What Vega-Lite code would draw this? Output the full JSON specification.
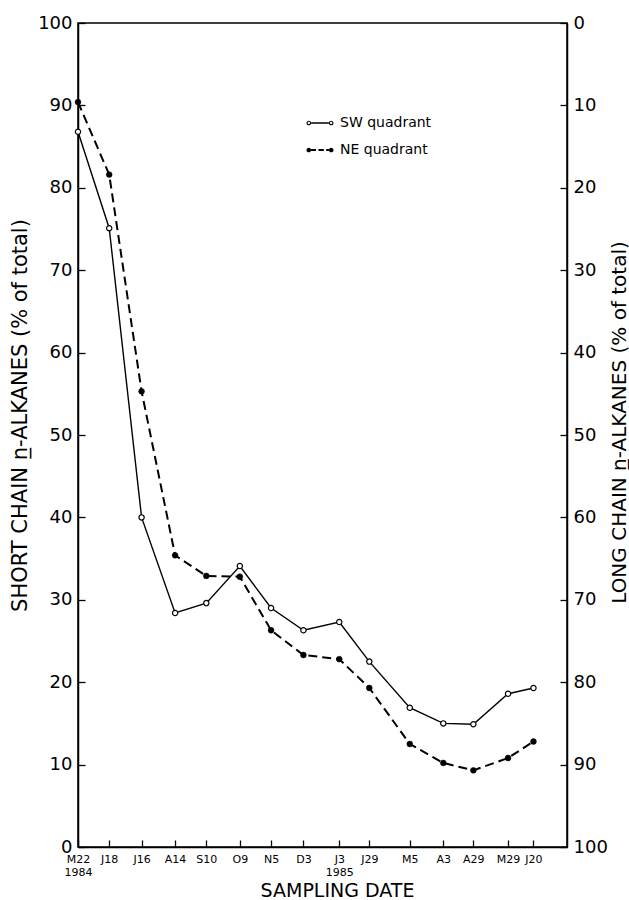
{
  "$schema": "https://vega.github.io/schema/vega-lite/v6.json",
  "width": 489,
  "height": 824,
  "autosize": "none",
  "padding": {"left": 78, "top": 23, "right": 62, "bottom": 53},
  "background": "white",
  "data": {
    "values": [
      {"date": "1984-05-22", "series": "SW quadrant", "value": 86.8},
      {"date": "1984-06-18", "series": "SW quadrant", "value": 75.1},
      {"date": "1984-07-16", "series": "SW quadrant", "value": 40.0},
      {"date": "1984-08-14", "series": "SW quadrant", "value": 28.4},
      {"date": "1984-09-10", "series": "SW quadrant", "value": 29.6},
      {"date": "1984-10-09", "series": "SW quadrant", "value": 34.1},
      {"date": "1984-11-05", "series": "SW quadrant", "value": 29.0},
      {"date": "1984-12-03", "series": "SW quadrant", "value": 26.3},
      {"date": "1985-01-03", "series": "SW quadrant", "value": 27.3},
      {"date": "1985-01-29", "series": "SW quadrant", "value": 22.5},
      {"date": "1985-03-05", "series": "SW quadrant", "value": 16.9},
      {"date": "1985-04-03", "series": "SW quadrant", "value": 15.0},
      {"date": "1985-04-29", "series": "SW quadrant", "value": 14.9},
      {"date": "1985-05-29", "series": "SW quadrant", "value": 18.6},
      {"date": "1985-06-20", "series": "SW quadrant", "value": 19.3},
      {"date": "1984-05-22", "series": "NE quadrant", "value": 90.4},
      {"date": "1984-06-18", "series": "NE quadrant", "value": 81.6},
      {"date": "1984-07-16", "series": "NE quadrant", "value": 55.3},
      {"date": "1984-08-14", "series": "NE quadrant", "value": 35.4},
      {"date": "1984-09-10", "series": "NE quadrant", "value": 32.9},
      {"date": "1984-10-09", "series": "NE quadrant", "value": 32.8},
      {"date": "1984-11-05", "series": "NE quadrant", "value": 26.3},
      {"date": "1984-12-03", "series": "NE quadrant", "value": 23.3},
      {"date": "1985-01-03", "series": "NE quadrant", "value": 22.8},
      {"date": "1985-01-29", "series": "NE quadrant", "value": 19.3},
      {"date": "1985-03-05", "series": "NE quadrant", "value": 12.5},
      {"date": "1985-04-03", "series": "NE quadrant", "value": 10.2},
      {"date": "1985-04-29", "series": "NE quadrant", "value": 9.3},
      {"date": "1985-05-29", "series": "NE quadrant", "value": 10.8},
      {"date": "1985-06-20", "series": "NE quadrant", "value": 12.8}
    ]
  },
  "encoding": {
    "x": {
      "field": "date",
      "type": "temporal",
      "scale": {
        "type": "utc",
        "domain": [
          {"year": 1984, "month": 5, "date": 22, "utc": true},
          {"year": 1985, "month": 7, "date": 19, "utc": true}
        ]
      },
      "axis": {
        "values": [
          {"year": 1984, "month": 5, "date": 22, "utc": true},
          {"year": 1984, "month": 6, "date": 18, "utc": true},
          {"year": 1984, "month": 7, "date": 16, "utc": true},
          {"year": 1984, "month": 8, "date": 14, "utc": true},
          {"year": 1984, "month": 9, "date": 10, "utc": true},
          {"year": 1984, "month": 10, "date": 9, "utc": true},
          {"year": 1984, "month": 11, "date": 5, "utc": true},
          {"year": 1984, "month": 12, "date": 3, "utc": true},
          {"year": 1985, "month": 1, "date": 3, "utc": true},
          {"year": 1985, "month": 1, "date": 29, "utc": true},
          {"year": 1985, "month": 3, "date": 5, "utc": true},
          {"year": 1985, "month": 4, "date": 3, "utc": true},
          {"year": 1985, "month": 4, "date": 29, "utc": true},
          {"year": 1985, "month": 5, "date": 29, "utc": true},
          {"year": 1985, "month": 6, "date": 20, "utc": true}
        ],
        "labelExpr": "(utcmonth(datum.value) == 4 && utcdate(datum.value) == 22) || (utcmonth(datum.value) == 0 && utcdate(datum.value) == 3) ? [substring(utcFormat(datum.value, '%b'), 0, 1) + utcFormat(datum.value, '%-d'), utcFormat(datum.value, '%Y')] : substring(utcFormat(datum.value, '%b'), 0, 1) + utcFormat(datum.value, '%-d')",
        "tickSize": -7,
        "labelPadding": 13,
        "labelFontSize": 11,
        "labelLineHeight": 13,
        "labelOverlap": false,
        "labelFlush": false,
        "grid": false,
        "title": "SAMPLING DATE",
        "titleFontSize": 19,
        "titleFontWeight": "normal",
        "titleX": 259,
        "titleY": 49.5,
        "titleAlign": "center",
        "titleBaseline": "alphabetic"
      }
    }
  },
  "layer": [
    {
      "encoding": {
        "y": {
          "field": "value",
          "type": "quantitative",
          "scale": {"domain": [0, 100]},
          "axis": {
            "orient": "left",
            "values": [0, 10, 20, 30, 40, 50, 60, 70, 80, 90, 100],
            "tickSize": -7,
            "labelPadding": 13,
            "labelFontSize": 18,
            "labelOverlap": false,
            "labelFlush": false,
            "grid": false,
            "title": "SHORT CHAIN n̲-ALKANES (% of total)",
            "titleFontSize": 21,
            "titleFontWeight": "normal",
            "titleAngle": 270,
            "titleX": -58,
            "titleY": 392,
            "titleAlign": "center",
            "titleBaseline": "middle"
          }
        }
      },
      "layer": [
        {
          "transform": [{"filter": "datum.series == 'SW quadrant'"}],
          "mark": {"type": "line", "color": "black", "strokeWidth": 1.4},
          "encoding": {}
        },
        {
          "transform": [{"filter": "datum.series == 'NE quadrant'"}],
          "mark": {"type": "line", "color": "black", "strokeWidth": 2, "strokeDash": [9, 5]},
          "encoding": {}
        },
        {
          "transform": [{"filter": "datum.series == 'SW quadrant'"}],
          "mark": {"type": "point", "shape": "circle", "size": 28, "fill": "white", "stroke": "black", "strokeWidth": 1.2, "opacity": 1, "filled": false},
          "encoding": {}
        },
        {
          "transform": [{"filter": "datum.series == 'NE quadrant'"}],
          "mark": {"type": "point", "shape": "circle", "size": 34, "fill": "black", "stroke": "black", "strokeWidth": 0.5, "opacity": 1, "filled": true},
          "encoding": {}
        },
        {
          "transform": [{"filter": "false"}],
          "mark": {"type": "point", "filled": true, "color": "black", "opacity": 1},
          "encoding": {
            "shape": {
              "field": "series",
              "type": "nominal",
              "scale": {
                "domain": ["SW quadrant", "NE quadrant"],
                "range": [
                  "M-0.68,0A0.18,0.18 0 1,0 -1.04,0A0.18,0.18 0 1,0 -0.68,0ZM-0.77,0A0.09,0.09 0 1,1 -0.95,0A0.09,0.09 0 1,1 -0.77,0ZM-0.68,-0.058H0.68V0.058H-0.68ZM1.04,0A0.18,0.18 0 1,0 0.68,0A0.18,0.18 0 1,0 1.04,0ZM0.95,0A0.09,0.09 0 1,1 0.77,0A0.09,0.09 0 1,1 0.95,0Z",
                  "M-0.68,0A0.18,0.18 0 1,0 -1.04,0A0.18,0.18 0 1,0 -0.68,0ZM-0.7,-0.075H-0.3V0.075H-0.7ZM-0.12,-0.075H0.3V0.075H-0.12ZM0.48,-0.075H0.7V0.075H0.48ZM1.04,0A0.18,0.18 0 1,0 0.68,0A0.18,0.18 0 1,0 1.04,0Z"
                ]
              },
              "legend": {
                "orient": "none",
                "legendX": 229,
                "legendY": 87,
                "title": null,
                "padding": 0,
                "symbolSize": 676,
                "symbolStrokeWidth": 0,
                "labelFontSize": 14,
                "labelOffset": 7,
                "rowPadding": 7,
                "labelColor": "black",
                "encode": {
                  "symbols": {
                    "fill": {"value": "black"},
                    "opacity": {"value": 1},
                    "fillOpacity": {"value": 1}
                  }
                }
              }
            }
          }
        }
      ]
    },
    {
      "mark": {"type": "point", "opacity": 0},
      "encoding": {
        "y": {
          "field": "value",
          "type": "quantitative",
          "scale": {"domain": [0, 100], "reverse": true},
          "axis": {
            "orient": "right",
            "values": [0, 10, 20, 30, 40, 50, 60, 70, 80, 90, 100],
            "tickSize": -7,
            "labelPadding": 13,
            "labelFontSize": 18,
            "labelOverlap": false,
            "labelFlush": false,
            "grid": false,
            "title": "LONG CHAIN n̲-ALKANES (% of total)",
            "titleFontSize": 20,
            "titleFontWeight": "normal",
            "titleAngle": 270,
            "titleX": 52,
            "titleY": 399,
            "titleAlign": "center",
            "titleBaseline": "middle"
          }
        }
      }
    }
  ],
  "resolve": {"scale": {"y": "independent"}},
  "config": {
    "font": "DejaVu Sans",
    "view": {"stroke": "black", "strokeWidth": 1.5},
    "axis": {
      "domainColor": "black",
      "domainWidth": 1.5,
      "tickColor": "black",
      "tickWidth": 1.3,
      "labelColor": "black",
      "titleColor": "black",
      "labelFontWeight": "normal"
    }
  }
}
